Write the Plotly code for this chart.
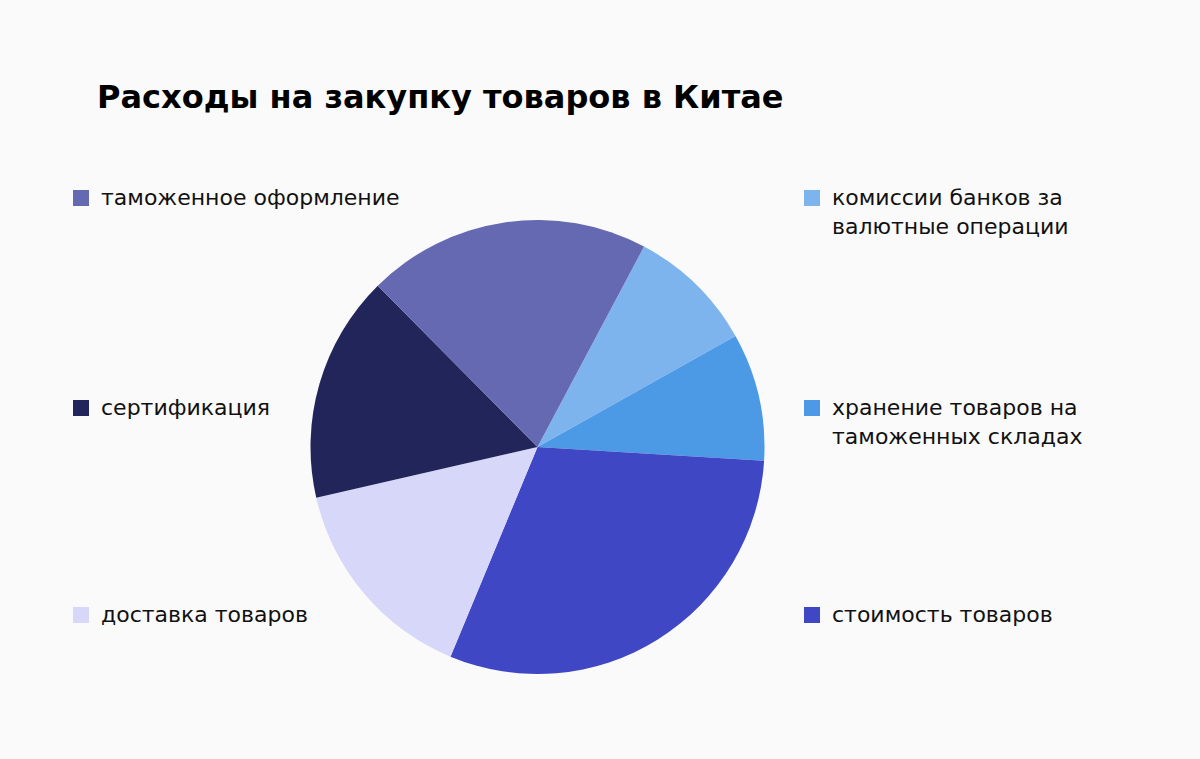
import plotly.graph_objects as go

W, H = 1200, 759

title = "Расходы на закупку товаров в Китае"
labels = ["комиссии банков за валютные операции", "хранение товаров на таможенных складах",
          "стоимость товаров", "доставка товаров", "сертификация", "таможенное оформление"]
values = [9, 9, 30, 15, 16, 20]
colors = ["#7DB4EE", "#4C9AE6", "#3F47C5", "#D6D7F9", "#22255A", "#6569B2"]

# legend layout: (label index, display text, side, y pixel of first line)
legend_items = [
    (5, "таможенное оформление", "left", 198),
    (4, "сертификация", "left", 408),
    (3, "доставка товаров", "left", 615),
    (0, "комиссии банков за<br>валютные операции", "right", 198),
    (1, "хранение товаров на<br>таможенных складах", "right", 408),
    (2, "стоимость товаров", "right", 615),
]

cx, cy, r = 537.5, 447, 227
FONT = "DejaVu Sans, sans-serif"

fig = go.Figure(go.Pie(
    labels=labels, values=values, sort=False, direction="clockwise", rotation=28,
    marker=dict(colors=colors, line=dict(width=0)),
    textinfo="none", showlegend=False,
    domain=dict(x=[(cx - r) / W, (cx + r) / W], y=[1 - (cy + r) / H, 1 - (cy - r) / H]),
))

shapes = []
annotations = [dict(text="<b>" + title + "</b>", x=95 / W, y=1 - 97 / H, xref="paper", yref="paper",
                    xanchor="left", yanchor="middle", showarrow=False,
                    font=dict(family=FONT, size=32, color="#000000"))]
for idx, txt, side, ypx in legend_items:
    sx = 73 if side == "left" else 804
    tx = 99 if side == "left" else 830
    shapes.append(dict(type="rect", xref="paper", yref="paper",
                       x0=sx / W, x1=(sx + 16) / W, y0=1 - (ypx + 8) / H, y1=1 - (ypx - 8) / H,
                       fillcolor=colors[idx], line=dict(width=0)))
    annotations.append(dict(text=txt, x=tx / W, y=1 - (ypx - 15) / H, xref="paper", yref="paper",
                            xanchor="left", yanchor="top", align="left", showarrow=False,
                            font=dict(family=FONT, size=22, color="#111111")))

fig.update_layout(width=W, height=H, margin=dict(l=0, r=0, t=0, b=0),
                  paper_bgcolor="#FAFAFA", plot_bgcolor="#FAFAFA",
                  shapes=shapes, annotations=annotations)
fig.write_html("out.html", config={"displayModeBar": False},
               post_script="document.body.style.margin='0';document.body.style.background='#FAFAFA';document.body.style.overflow='hidden';")
